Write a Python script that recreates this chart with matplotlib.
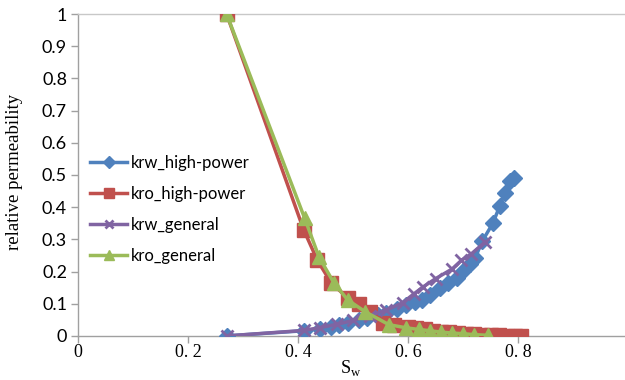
import numpy as np
import matplotlib.pyplot as plt

# water saturation and relative permeabilities
sw_hp = [0.27, 0.41, 0.44, 0.46, 0.475, 0.49, 0.51, 0.525, 0.545, 0.56, 0.58,
         0.597, 0.612, 0.625, 0.64, 0.658, 0.672, 0.688, 0.7, 0.712, 0.722,
         0.735, 0.754, 0.767, 0.776, 0.785, 0.793]
krw_hp = [0.0, 0.016, 0.022, 0.028, 0.033, 0.04, 0.048, 0.055, 0.064, 0.072, 0.083,
          0.095, 0.104, 0.113, 0.127, 0.15, 0.165, 0.18, 0.203, 0.222, 0.243,
          0.295, 0.35, 0.405, 0.445, 0.48, 0.49]

sw_kro_hp = [0.27, 0.41, 0.435, 0.46, 0.49, 0.51, 0.53, 0.555, 0.575, 0.6, 0.615,
             0.63, 0.645, 0.66, 0.675, 0.69, 0.705, 0.72, 0.735, 0.75, 0.765,
             0.78, 0.795, 0.805]
kro_hp = [1.0, 0.33, 0.235, 0.165, 0.118, 0.1, 0.075, 0.04, 0.035, 0.028, 0.024,
          0.02, 0.016, 0.013, 0.011, 0.009, 0.007, 0.005, 0.004, 0.003, 0.002,
          0.001, 0.0, 0.0]

sw_gen = [0.27, 0.41, 0.44, 0.47, 0.5, 0.53, 0.56, 0.59, 0.61, 0.627, 0.65,
          0.68, 0.697, 0.715, 0.74]
krw_gen = [0.0, 0.017, 0.026, 0.036, 0.048, 0.063, 0.08, 0.103, 0.13, 0.152, 0.178,
           0.208, 0.235, 0.255, 0.292]

sw_kro_gen = [0.27, 0.412, 0.438, 0.465, 0.49, 0.522, 0.565, 0.597, 0.62, 0.64,
              0.66, 0.68, 0.7, 0.72, 0.745]
kro_gen = [1.0, 0.365, 0.245, 0.165, 0.112, 0.075, 0.035, 0.025, 0.02, 0.016,
           0.012, 0.009, 0.007, 0.004, 0.002]

xticks = [0, 0.2, 0.4, 0.6, 0.8, 1.0]
xticklabels = ['0', '0. 2', '0. 4', '0. 6', '0. 8', '1']
yticks = [0, 0.1, 0.2, 0.3, 0.4, 0.5, 0.6, 0.7, 0.8, 0.9, 1.0]
yticklabels = ['0', '0.1', '0.2', '0.3', '0.4', '0.5', '0.6', '0.7', '0.8', '0.9', '1']

fig = plt.figure(figsize=(6.25, 3.8), dpi=100)
ax = fig.add_axes([0.125, 0.116, 0.88, 0.847])

ax.plot(sw_hp, krw_hp, color='#4F81BD', lw=2.5, marker='D', ms=8,
        label='krw_high-power', zorder=3)
ax.plot(sw_kro_hp, kro_hp, color='#C0504D', lw=2.5, marker='s', ms=10,
        label='kro_high-power', zorder=3)
ax.plot(sw_gen, krw_gen, color='#8064A2', lw=2.5, marker='x', ms=8, mew=2,
        label='krw_general', zorder=4)
ax.plot(sw_kro_gen, kro_gen, color='#9BBB59', lw=2.5, marker='^', ms=10,
        label='kro_general', zorder=4)

ax.set_xlim(0, 1)
ax.set_ylim(0, 1)
ax.set_xticks(xticks)
ax.set_xticklabels(xticklabels, family='Liberation Serif', fontsize=13)
ax.set_yticks(yticks)
ax.set_yticklabels(yticklabels, family='Lato', fontsize=13)
ax.tick_params(axis='both', direction='out', length=5, color='#A0A0A0', width=1)
ax.tick_params(axis='y', pad=3)
ax.tick_params(axis='x', pad=1)

for s in ax.spines.values():
    s.set_color('#C8C8C8')
    s.set_linewidth(1)
ax.spines['left'].set_color('#A0A0A0')
ax.spines['bottom'].set_color('#A0A0A0')

ax.set_xlabel('S$_\\mathregular{w}$', family='Liberation Serif', fontsize=13)
ax.xaxis.set_label_coords(0.495, -0.07)
ax.set_ylabel('relative permeability', family='Liberation Serif', fontsize=13.5)
ax.yaxis.set_label_coords(-0.1, 0.51)

leg = ax.legend(loc='upper left', bbox_to_anchor=(-0.005, 0.61), frameon=False,
                prop={'family': 'Lato', 'size': 12}, labelspacing=0.9,
                handlelength=2.2, handletextpad=0.2, markerscale=0.75)

fig.savefig('out.png')
